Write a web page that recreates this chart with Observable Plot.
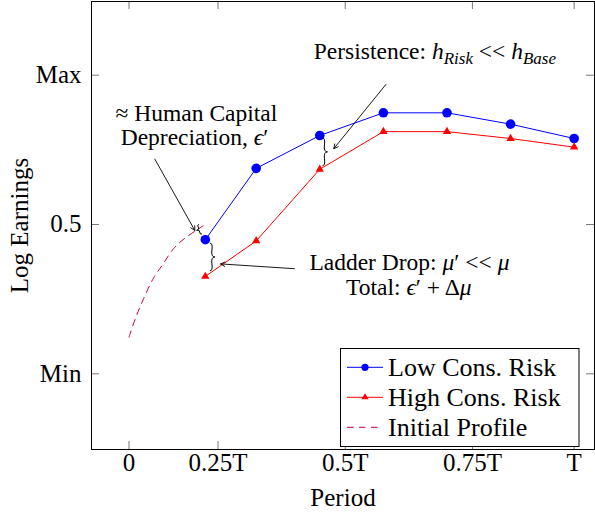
<!DOCTYPE html>
<html><head><meta charset="utf-8">
<script src="https://cdn.jsdelivr.net/npm/d3@7"></script>
<script src="https://cdn.jsdelivr.net/npm/@observablehq/plot@0.6"></script>
<style>body{margin:0;background:#fff}</style>
</head><body><div id="chart"></div>
<script>
// ---- data ----
const periods = [1.2, 2, 3, 4, 5, 6, 7];
const lowRisk = [0.449, 0.688, 0.798, 0.874, 0.874, 0.836, 0.788];
const highRisk = [0.326, 0.445, 0.685, 0.811, 0.811, 0.788, 0.759];
const initX = [0, 0.10, 0.23, 0.39, 0.53, 0.70, 0.89, 1.17];
const initY = [0.123, 0.185, 0.252, 0.3225, 0.366, 0.419, 0.456, 0.496];
const xTicks = [0, 1.4, 3.4, 5.4, 7];
const xTickLabels = ["0", "0.25T", "0.5T", "0.75T", "T"];
const yTicks = [0, 0.5, 1];
const yTickLabels = ["Min", "0.5", "Max"];
const seriesNames = ["Low Cons. Risk", "High Cons. Risk", "Initial Profile"];
const seriesColors = ["#0000ff", "#ff0000", "#bf0040"];
const noteText = ["≈ Human Capital", "Depreciation, ϵ′", "Persistence: hRisk << hBase", "Ladder Drop: μ′ << μ", "Total: ϵ′ + Δμ"];
const noteX = [1.06, 1.03, 4.81, 4.41, 4.40];
const noteY = [0.872, 0.791, 1.078, 0.373, 0.288];
const arrowX1 = [0.406, 2.60, 4.04];
const arrowY1 = [0.719, 0.352, 0.969];
const arrowX2 = [1.035, 1.44, 3.22];
const arrowY2 = [0.480, 0.368, 0.754];
const braceX1 = [1.11, 1.28, 3.05];
const braceY1 = [0.499, 0.343, 0.695];
const braceX2 = [1.155, 1.28, 3.05];
const braceY2 = [0.4665, 0.436, 0.788];
const braceAmp = [4, 5, 5];

// ---- tables built from the arrays ----
const lowData = periods.map((p, i) => ({x: p, y: lowRisk[i]}));
const highData = periods.map((p, i) => ({x: p, y: highRisk[i]}));
const initData = initX.map((x, i) => ({x, y: initY[i]}));
const notes = noteText.map((t, i) => ({t, x: noteX[i], y: noteY[i]}));
const arrows = arrowX1.map((x1, i) => ({x1, y1: arrowY1[i], x2: arrowX2[i], y2: arrowY2[i]}));

const W = 595, H = 514, ML = 91, MR = 1, MT = 1, MB = 65;
const plotW = W - ML - MR, plotH = H - MT - MB;
const FONT = "'Liberation Serif', 'Times New Roman', serif";

const plot = Plot.plot({
  width: W, height: H,
  marginLeft: ML, marginRight: MR, marginTop: MT, marginBottom: MB,
  style: {fontFamily: FONT, fontSize: "25px", background: "white", color: "black", overflow: "visible"},
  x: {domain: [-0.59, 7.32]},
  y: {domain: [-0.2535, 1.2468]},
  marks: [
    Plot.tickX(xTicks, {x: d => d, insetTop: plotH - 8, stroke: "#777"}),
    Plot.tickX(xTicks, {x: d => d, insetBottom: plotH - 8, stroke: "#777"}),
    Plot.tickY(yTicks, {y: d => d, insetRight: plotW - 8, stroke: "#777"}),
    Plot.tickY(yTicks, {y: d => d, insetLeft: plotW - 8, stroke: "#777"}),
    Plot.axisX(xTicks, {tickFormat: d => xTickLabels[xTicks.indexOf(d)], tickSize: 0, tickPadding: 4, label: null}),
    Plot.axisY(yTicks, {tickFormat: d => yTickLabels[yTicks.indexOf(d)], tickSize: 0, tickPadding: 10, label: null}),
    Plot.text(["Period"], {text: d => d, frameAnchor: "bottom", textAnchor: "middle", lineAnchor: "middle", dy: 48}),
    Plot.text(["Log Earnings"], {text: d => d, frameAnchor: "left", textAnchor: "middle", lineAnchor: "middle", rotate: -90, dx: -72}),
    Plot.line(initData, {x: "x", y: "y", stroke: seriesColors[2], strokeWidth: 1, strokeDasharray: "6.5,5.5", curve: "catmull-rom"}),
    Plot.line(lowData, {x: "x", y: "y", stroke: seriesColors[0], strokeWidth: 1}),
    Plot.dot(lowData, {x: "x", y: "y", r: 4.8, fill: seriesColors[0]}),
    Plot.line(highData, {x: "x", y: "y", stroke: seriesColors[1], strokeWidth: 1}),
    Plot.dot(highData, {x: "x", y: "y", r: 3.1, symbol: "triangle", fill: seriesColors[1]}),
    Plot.arrow(arrows, {x1: "x1", y1: "y1", x2: "x2", y2: "y2", stroke: "black", strokeWidth: 0.9, headLength: 8, headAngle: 55}),
    Plot.text(notes, {x: "x", y: "y", text: "t", fontSize: 23.5}),
    Plot.frame({stroke: "black"})
  ]
});

const svg = d3.select(plot);
const sx = plot.scale("x"), sy = plot.scale("y");

// curly braces, positioned through the plot's scales
function bracePath(x1, y1, x2, y2, w, q) {
  let dx = x1 - x2, dy = y1 - y2;
  const len = Math.hypot(dx, dy); dx /= len; dy /= len;
  const qx1 = x1 + q * w * dy, qy1 = y1 - q * w * dx;
  const qx2 = (x1 - .25 * len * dx) + (1 - q) * w * dy, qy2 = (y1 - .25 * len * dy) - (1 - q) * w * dx;
  const tx1 = (x1 - .5 * len * dx) + w * dy, ty1 = (y1 - .5 * len * dy) - w * dx;
  const qx3 = x2 + q * w * dy, qy3 = y2 - q * w * dx;
  const qx4 = (x1 - .75 * len * dx) + (1 - q) * w * dy, qy4 = (y1 - .75 * len * dy) - (1 - q) * w * dx;
  return `M${x1},${y1}Q${qx1},${qy1} ${qx2},${qy2}T${tx1},${ty1}M${x2},${y2}Q${qx3},${qy3} ${qx4},${qy4}T${tx1},${ty1}`;
}
const gb = svg.append("g").attr("fill", "none").attr("stroke", "black").attr("stroke-width", 1);
braceX1.forEach((bx, i) => {
  gb.append("path").attr("d", bracePath(sx.apply(bx), sy.apply(braceY1[i]), sx.apply(braceX2[i]), sy.apply(braceY2[i]), braceAmp[i], 0.6));
});

// math formatting of annotation texts (italics, subscripts)
const rich = {
  "Depreciation, ϵ′": [["Depreciation, "], ["ϵ", "i"], ["′"]],
  "Persistence: hRisk << hBase": [["Persistence: "], ["h", "i"], ["Risk", "s"], [" << ", "r"], ["h", "i"], ["Base", "s"]],
  "Ladder Drop: μ′ << μ": [["Ladder Drop: "], ["μ", "i"], ["′ << "], ["μ", "i"]],
  "Total: ϵ′ + Δμ": [["Total: "], ["ϵ", "i"], ["′ + Δ"], ["μ", "i"]]
};
svg.selectAll("text").each(function () {
  const key = this.textContent;
  if (!rich[key]) return;
  const t = d3.select(this);
  t.text(null);
  let shifted = false;
  for (const [s, k] of rich[key]) {
    const sp = t.append("tspan").text(s);
    if (k === "i" || k === "s") sp.attr("font-style", "italic");
    if (k === "s") { sp.attr("font-size", "17px").attr("dy", shifted ? null : 5); shifted = true; }
    else if (shifted) { sp.attr("dy", -5); shifted = false; }
  }
});

// legend
const lg = svg.append("g").attr("text-anchor", "start");
lg.append("rect").attr("x", 340.5).attr("y", 348.5).attr("width", 238.5).attr("height", 98)
  .attr("fill", "white").attr("stroke", "black").attr("stroke-width", 1);
seriesNames.forEach((name, i) => {
  const cy = 367.3 + 30 * i;
  const ln = lg.append("line").attr("x1", 347).attr("x2", 383).attr("y1", cy).attr("y2", cy)
    .attr("stroke", seriesColors[i]).attr("stroke-width", 1);
  if (i === 2) ln.attr("stroke-dasharray", "6.5,5.5");
  if (i === 0) lg.append("circle").attr("cx", 365).attr("cy", cy).attr("r", 3.6).attr("fill", seriesColors[i]);
  if (i === 1) lg.append("path").attr("d", d3.symbol(d3.symbolTriangle, 22)()).attr("transform", `translate(365,${cy})`).attr("fill", seriesColors[i]);
  lg.append("text").attr("x", 388).attr("y", cy + 8.5).attr("font-size", 26).attr("fill", "black").attr("text-anchor", "start").text(name);
});

document.getElementById("chart").appendChild(plot);
</script>
</body></html>
